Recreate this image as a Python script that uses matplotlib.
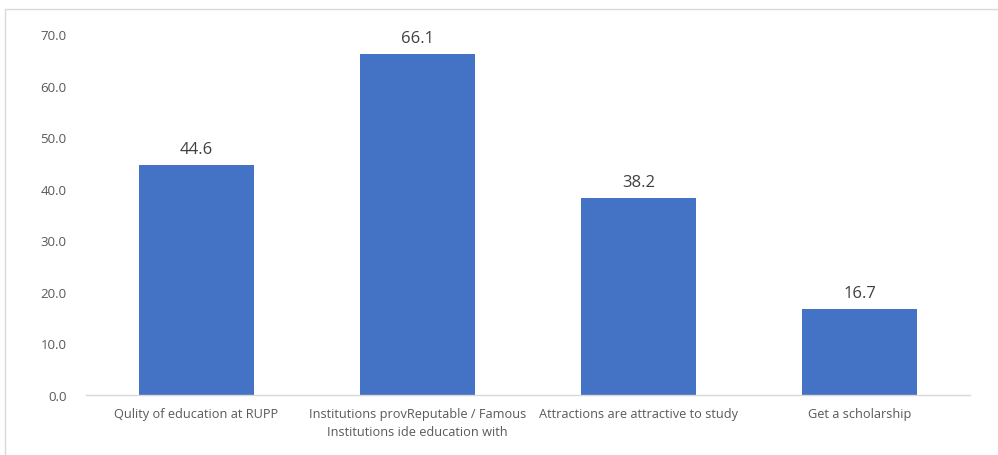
import matplotlib
matplotlib.use("Agg")
import matplotlib.pyplot as plt
from matplotlib.patches import Rectangle

categories = [
    "Qulity of education at RUPP",
    "Institutions provReputable / Famous\nInstitutions ide education with",
    "Attractions are attractive to study",
    "Get a scholarship",
]
values = [44.6, 66.1, 38.2, 16.7]
yticks = [0, 10, 20, 30, 40, 50, 60, 70]

plt.rcParams["font.family"] = ["Open Sans", "DejaVu Sans"]

W, H = 998, 456
fig = plt.figure(figsize=(W / 100, H / 100), dpi=100)

# chart area border
fig.patches.append(Rectangle((5 / W, -0.1), 1.2, 1.1 - 10 / H, transform=fig.transFigure,
                             fill=False, edgecolor="#d9d9d9", linewidth=1.0))

ax = fig.add_axes([86 / W, 1 - 396 / H, (970 - 86) / W, (396 - 35) / H])
x = list(range(len(categories)))
bars = ax.bar(x, values, width=0.52, color="#4472c4", zorder=2)
ax.set_xlim(-0.5, len(categories) - 0.5)
ax.set_ylim(0, 70)
ax.set_yticks(yticks)
ax.set_yticklabels([f"{v:.1f}" for v in yticks], color="#595959", fontsize=9.5)
ax.set_xticks(x)
ax.set_xticklabels(categories, color="#595959", fontsize=9.2, linespacing=1.45)
ax.tick_params(axis="both", length=0)
ax.tick_params(axis="y", pad=14)
ax.tick_params(axis="x", pad=9)
for s in ["top", "right", "left"]:
    ax.spines[s].set_visible(False)
ax.spines["bottom"].set_color("#d9d9d9")
ax.spines["bottom"].set_linewidth(1.0)

for b, v in zip(bars, values):
    ax.annotate(f"{v:.1f}", (b.get_x() + b.get_width() / 2, v), xytext=(0, 6),
                textcoords="offset points", ha="center", va="bottom",
                fontsize=12, color="#404040")

fig.savefig("out.png", dpi=100)
